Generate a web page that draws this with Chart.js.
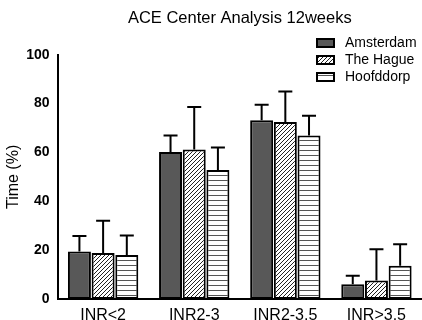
<!DOCTYPE html>
<html>
<head>
<meta charset="utf-8">
<script src="https://cdn.jsdelivr.net/npm/chart.js@4"></script>
<style>
  html, body { margin: 0; padding: 0; background: #fff; }
  #wrap { width: 422px; height: 320px; }
</style>
</head>
<body>
<div id="wrap"><canvas id="chart" width="422" height="320"></canvas></div>
<script>
// Данные графика
const categories = ['INR<2', 'INR2-3', 'INR2-3.5', 'INR>3.5'];
const seriesNames = ['Amsterdam', 'The Hague', 'Hoofddorp'];
const amsterdam = [19.5, 60.2, 73.2, 6.0];
const theHague = [18.8, 61.2, 72.5, 7.6];
const hoofddorp = [18.0, 52.8, 67.0, 13.6];
// верхние «усы» (SD)
const amsterdamErr = [6.3, 6.8, 6.3, 3.5];
const theHagueErr = [13.2, 17.4, 12.5, 12.8];
const hoofddorpErr = [8.0, 9.2, 8.0, 8.8];
const yTicks = [0, 20, 40, 60, 80, 100];

const FONT = "'Liberation Sans', Arial, sans-serif";

function makePattern(kind) {
    const c = document.createElement('canvas');
    const size = kind === 'diag' ? 4 : 5;
    c.width = size; c.height = size;
    const g = c.getContext('2d');
    g.fillStyle = '#fff';
    g.fillRect(0, 0, size, size);
    if (kind === 'diag') {
        g.strokeStyle = '#222';
        g.lineWidth = 1;
        g.beginPath();
        g.moveTo(0, size); g.lineTo(size, 0);
        g.moveTo(-1, 1); g.lineTo(1, -1);
        g.moveTo(size - 1, size + 1); g.lineTo(size + 1, size - 1);
        g.stroke();
    } else {
        g.fillStyle = '#555';
        g.fillRect(0, 0, size, 1);
    }
    return g.createPattern(c, 'repeat');
}

const ctx = document.getElementById('chart').getContext('2d');
const fills = ['#585858', makePattern('diag'), makePattern('horiz')];
const errs = [amsterdamErr, theHagueErr, hoofddorpErr];

// Усы ошибок вверх
const errorBars = {
    id: 'errorBars',
    afterDatasetsDraw(chart) {
        const c = chart.ctx;
        const y = chart.scales.y;
        c.save();
        c.strokeStyle = '#000';
        c.lineWidth = 2;
        chart.data.datasets.forEach((ds, i) => {
            const meta = chart.getDatasetMeta(i);
            meta.data.forEach((bar, j) => {
                const top = y.getPixelForValue(ds.data[j] + errs[i][j]);
                c.beginPath();
                c.moveTo(bar.x, bar.y);
                c.lineTo(bar.x, top);
                c.moveTo(bar.x - 7, top);
                c.lineTo(bar.x + 7, top);
                c.stroke();
            });
        });
        c.restore();
    },
};

// Легенда в правом верхнем углу
const legendBox = {
    id: 'legendBox',
    afterDraw(chart) {
        const c = chart.ctx;
        c.save();
        c.font = '14px ' + FONT;
        c.textBaseline = 'middle';
        chart.data.datasets.forEach((ds, i) => {
            const yc = 43 + i * 17;
            c.fillStyle = ds.backgroundColor;
            c.fillRect(317, yc - 4, 17, 8);
            c.strokeStyle = '#000';
            c.lineWidth = 2;
            c.strokeRect(317, yc - 4, 17, 8);
            c.fillStyle = '#000';
            c.fillText(ds.label, 345, yc);
        });
        c.restore();
    },
};

const datasets = [amsterdam, theHague, hoofddorp].map((vals, i) => ({
    label: seriesNames[i],
    data: vals,
    backgroundColor: fills[i],
    borderColor: '#000',
    borderWidth: 2,
    borderSkipped: false,
    categoryPercentage: 0.78,
    barPercentage: 0.97,
}));

new Chart(ctx, {
    type: 'bar',
    data: { labels: categories, datasets },
    options: {
        responsive: false,
        animation: false,
        layout: { padding: { top: 0, right: 0, left: 3, bottom: -8 } },
        plugins: {
            legend: { display: false },
            tooltip: { enabled: false },
            title: {
                display: true,
                fullSize: false,
                text: 'ACE Center Analysis 12weeks',
                color: '#000',
                font: { family: FONT, size: 16.5, weight: 'normal' },
                padding: { top: 9, bottom: 26 },
            },
        },
        scales: {
            x: {
                grid: { display: false, drawTicks: true, tickLength: 5, tickColor: '#000', tickWidth: 2 },
                border: { display: true, color: '#000', width: 2 },
                ticks: { color: '#000', font: { family: FONT, size: 16, lineHeight: 1 }, padding: 4, maxRotation: 0 },
            },
            y: {
                min: 0,
                max: 100,
                afterBuildTicks: (s) => { s.ticks = yTicks.map((v) => ({ value: v })); },
                grid: { display: false, drawTicks: true, tickLength: 6, tickColor: '#000', tickWidth: 2 },
                border: { display: true, color: '#000', width: 2 },
                ticks: { color: '#000', font: { family: FONT, size: 14, weight: 'bold' }, padding: 2 },
                title: {
                    display: true,
                    text: 'Time (%)',
                    color: '#000',
                    font: { family: FONT, size: 16 },
                    padding: { top: 1, bottom: 1 },
                },
            },
        },
    },
    plugins: [errorBars, legendBox],
});
</script>
</body>
</html>
